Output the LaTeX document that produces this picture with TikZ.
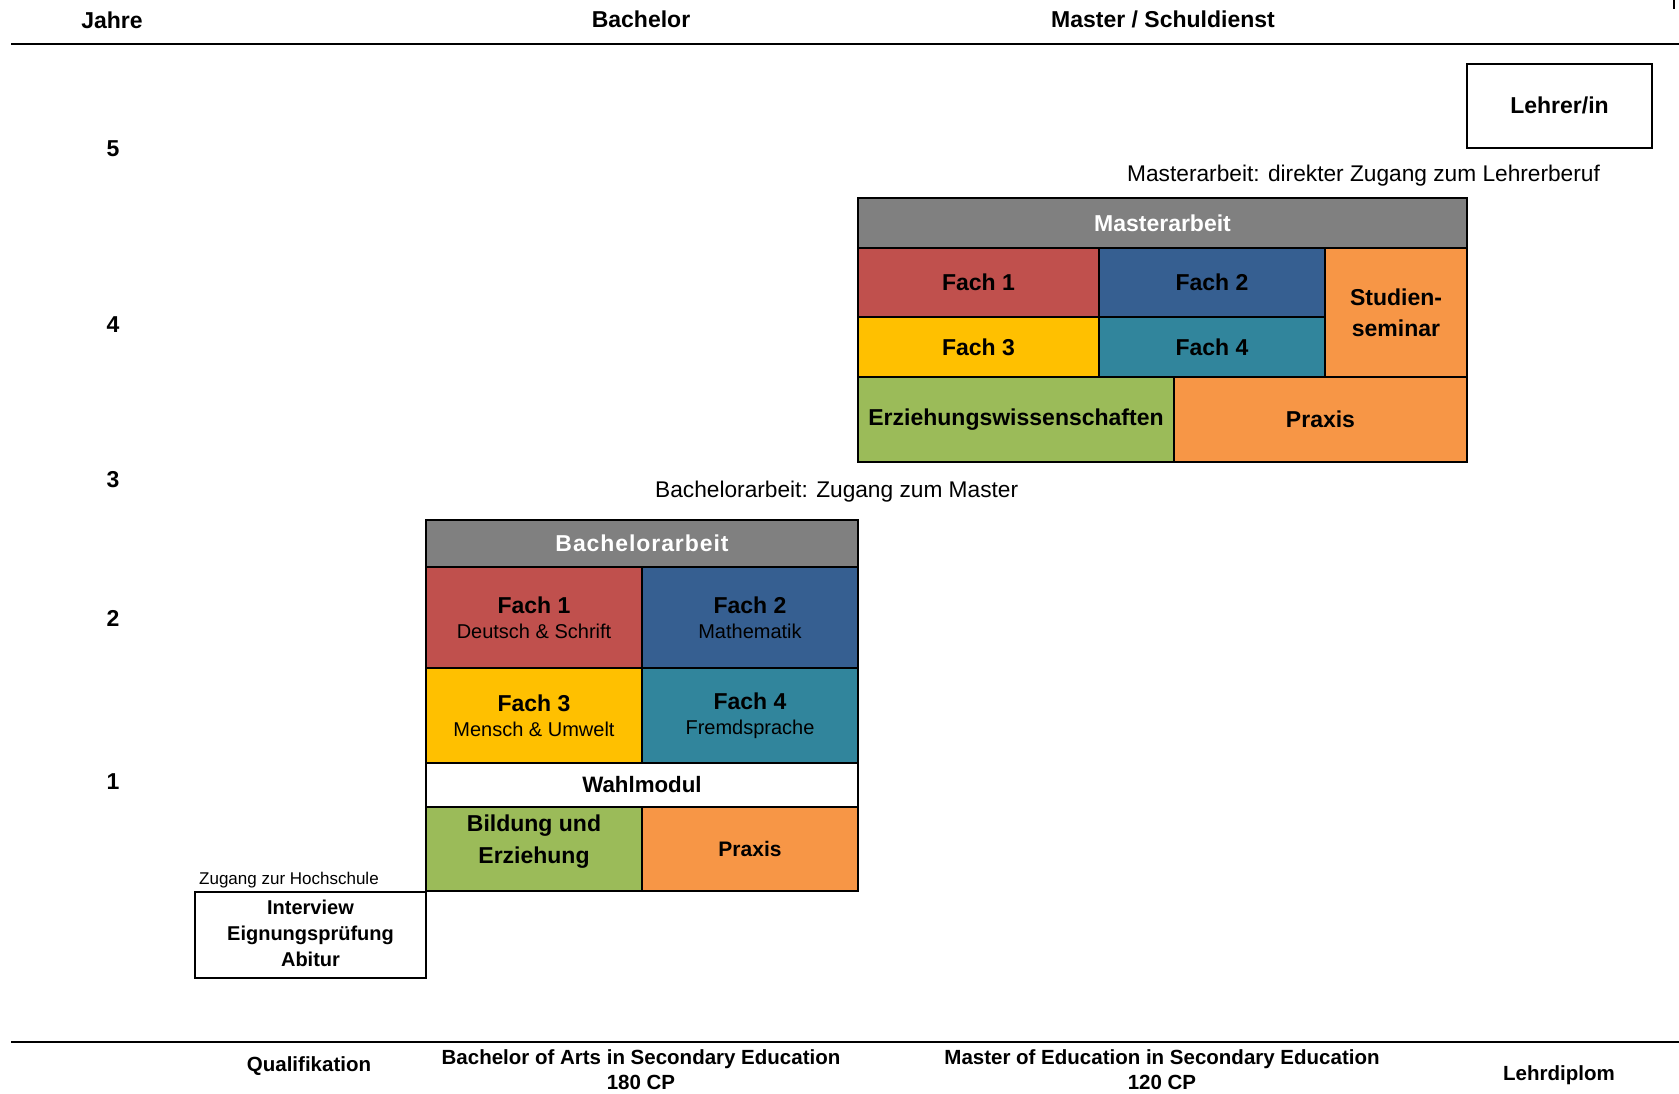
\documentclass[tikz,border=0pt]{standalone}
\usepackage{fontspec}
\setmainfont{Liberation Sans}
\newfontfamily\spacedsans[LetterSpace=4]{Liberation Sans}
\definecolor{fachrot}{HTML}{C0504D}
\definecolor{fachblau}{HTML}{365F91}
\definecolor{fachgelb}{HTML}{FFC000}
\definecolor{fachpetrol}{HTML}{31859C}
\definecolor{fachgruen}{HTML}{9BBB59}
\definecolor{fachorange}{HTML}{F79646}
\definecolor{kopfgrau}{HTML}{808080}
\newcommand{\fsz}[2]{\fontsize{#1}{#2}\selectfont}
\newcommand{\subtxt}{\mdseries\fsz{20}{27}}
\begin{document}
\begin{tikzpicture}[x=1pt,y=-1pt,
  cell/.style={draw=black,line width=2pt,inner sep=0pt,outer sep=0pt,
    anchor=north west,align=center,font=\bfseries\fsz{23}{31}},
  headcell/.style={cell,fill=kopfgrau,text=white},
  axislabel/.style={font=\bfseries\fsz{23}{27},inner sep=0pt},
  footlabel/.style={font=\bfseries\fsz{20.5}{25},inner sep=0pt,align=center},
  caption/.style={font=\fsz{22.7}{27},inner sep=0pt,anchor=west}]
\useasboundingbox (0,0) rectangle (1679,1093);

% header and footer rules
\coordinate (topL) at (11,44);
\coordinate (topR) at (1679,44);
\coordinate (botL) at (11,1042);
\coordinate (botR) at (1679,1042);
\draw[line width=2.5pt] (topL) -- (topR);
\draw[line width=2.5pt] (botL) -- (botR);
\coordinate (tickA) at (1674,0);
\coordinate (tickB) at (1674,9);
\draw[line width=1.5pt] (tickA) -- (tickB);

% column headings
\node[axislabel] (hJahre) at (112,20) {Jahre};
\node[axislabel] (hBa) at (641,19) {Bachelor};
\node[axislabel] (hMa) at (1163,19) {Master / Schuldienst};

% year scale
\node[axislabel] (y5) at (113,149) {5};
\node[axislabel] (y4) at (113,325) {4};
\node[axislabel] (y3) at (113,480) {3};
\node[axislabel] (y2) at (113,618) {2};
\node[axislabel] (y1) at (113,782) {1};

% goal
\node[cell,fill=white,minimum width=185pt,minimum height=84pt] (lehrer) at (1467,64) {\raisebox{2pt}{Lehrer/in}};
\node[caption] (capMa) at (1127,176) {Masterarbeit: direkter Zugang zum Lehrerberuf};

% master block
\node[headcell,minimum width=609pt,minimum height=50pt] (mHead) at (858,198) {Masterarbeit};
\node[cell,fill=fachrot,minimum width=241pt,minimum height=69pt] (mF1) at (858,248) {Fach 1};
\node[cell,fill=fachblau,minimum width=226pt,minimum height=69pt] (mF2) at (1099,248) {Fach 2};
\node[cell,fill=fachgelb,minimum width=241pt,minimum height=60pt] (mF3) at (858,317) {Fach 3};
\node[cell,fill=fachpetrol,minimum width=226pt,minimum height=60pt] (mF4) at (1099,317) {Fach 4};
\node[cell,fill=fachorange,minimum width=142pt,minimum height=129pt] (mSem) at (1325,248) {Studien-\\seminar};
\node[cell,fill=fachgruen,minimum width=316pt,minimum height=85pt] (mEW) at (858,377) {Erziehungswissenschaften};
\node[cell,fill=fachorange,minimum width=293pt,minimum height=85pt] (mPx) at (1174,377) {Praxis};

% bachelor block
\node[caption] (capBa) at (655,492) {Bachelorarbeit: Zugang zum Master};
\node[headcell,minimum width=432pt,minimum height=47pt] (bHead) at (426,520) {\spacedsans\bfseries Bachelorarbeit};
\node[cell,fill=fachrot,minimum width=216pt,minimum height=101pt,font=\bfseries\fsz{23}{27}] (bF1) at (426,567) {Fach 1\\[-2pt]{\subtxt Deutsch \& Schrift}};
\node[cell,fill=fachblau,minimum width=216pt,minimum height=101pt,font=\bfseries\fsz{23}{27}] (bF2) at (642,567) {Fach 2\\[-2pt]{\subtxt Mathematik}};
\node[cell,fill=fachgelb,minimum width=216pt,minimum height=95pt,font=\bfseries\fsz{23}{27}] (bF3) at (426,668) {Fach 3\\[-2pt]{\subtxt Mensch \& Umwelt}};
\node[cell,fill=fachpetrol,minimum width=216pt,minimum height=95pt,font=\bfseries\fsz{23}{27}] (bF4) at (642,668) {Fach 4\\[-2pt]{\subtxt Fremdsprache}};
\node[cell,fill=white,minimum width=432pt,minimum height=44pt,font=\bfseries\fsz{22.3}{27}] (bWahl) at (426,763) {Wahlmodul};
\node[cell,fill=fachgruen,minimum width=216pt,minimum height=84pt] (bBE) at (426,807) {};
\node[font=\bfseries\fsz{23}{32},align=center,inner sep=0pt] (bBEtext) at ([yshift=7pt]bBE.center) {Bildung und\\Erziehung};
\node[cell,fill=fachorange,minimum width=216pt,minimum height=84pt,font=\bfseries\fsz{21}{27}] (bPx) at (642,807) {Praxis};

% entry qualification
\node[font=\fsz{17}{20},inner sep=0pt,anchor=west] (capQ) at (199,880) {Zugang zur Hochschule};
\node[cell,fill=white,minimum width=231pt,minimum height=86pt,font=\bfseries\fsz{20}{26}] (qual) at (195,892) {\raisebox{4pt}{\begin{tabular}{@{}c@{}}Interview\\Eignungsprüfung\\Abitur\end{tabular}}};

% degrees
\node[footlabel] (fQ) at (309,1066) {Qualifikation};
\node[footlabel] (fBa) at (641,1070) {Bachelor of Arts in Secondary Education\\180 CP};
\node[footlabel] (fMa) at (1162,1070) {Master of Education in Secondary Education\\120 CP};
\node[footlabel] (fL) at (1559,1075) {Lehrdiplom};
\end{tikzpicture}
\end{document}
